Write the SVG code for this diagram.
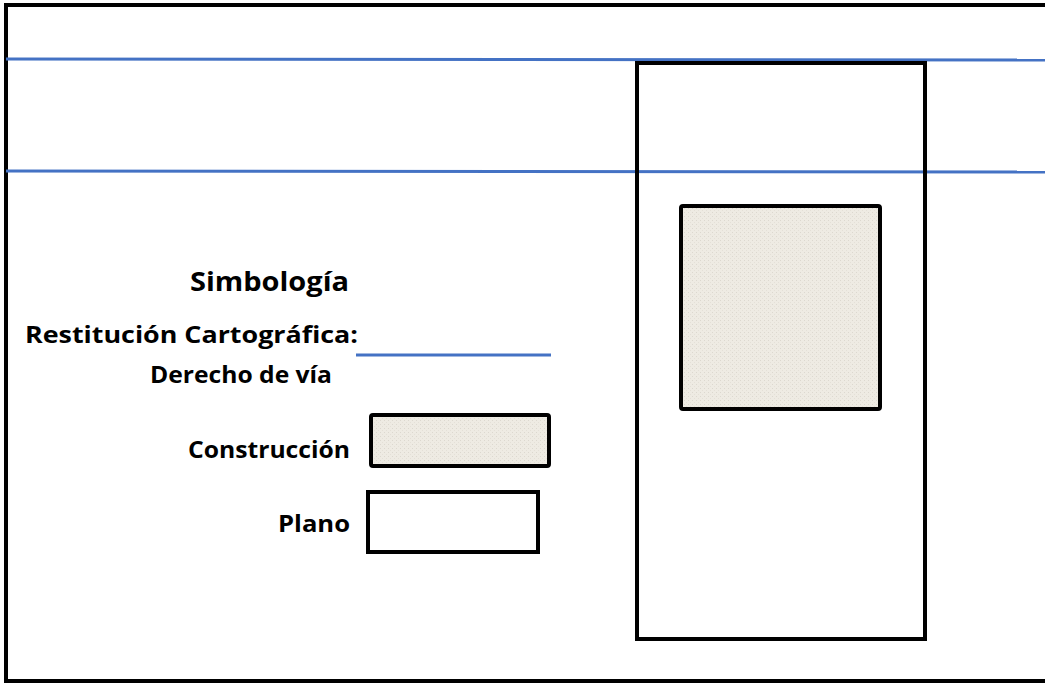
<svg xmlns="http://www.w3.org/2000/svg" width="1045" height="683" viewBox="0 0 1045 683">
<style>
.lbl{font-family:"Open Sans","Liberation Sans",sans-serif;font-weight:bold;fill:#000}
.blk{fill:none;stroke:#000;stroke-width:4}
.blue{stroke:#4472c4;stroke-width:3;fill:none}
</style>
<defs>
<pattern id="tex" width="4" height="4" patternUnits="userSpaceOnUse">
<rect width="4" height="4" fill="#eeebe3"/>
<rect x="0" y="0" width="1" height="1" fill="#dcd8cf"/>
<rect x="2" y="2" width="1" height="1" fill="#e4e0d7"/>
</pattern>
</defs>
<rect width="1045" height="683" fill="#fff"/>
<g id="frame"><path d="M1045 5 H6 V681 H1045" fill="none" stroke="#000" stroke-width="4"/></g>
<g id="connectors">
<line class="blue" x1="6" y1="59" x2="1045" y2="60"/>
<line class="blue" x1="6" y1="171" x2="1045" y2="172"/>
</g>
<g id="plano-main"><rect class="blk" x="637" y="63" width="288" height="576"/></g>
<g id="construccion-main"><rect x="681" y="206" width="199" height="203" rx="2" fill="url(#tex)" stroke="#000" stroke-width="4"/></g>
<g id="legend">
<text class="lbl" x="349" y="291" font-size="27" text-anchor="end" textLength="159" lengthAdjust="spacingAndGlyphs">Simbología</text>
<text class="lbl" x="358" y="343" font-size="24" text-anchor="end" textLength="333" lengthAdjust="spacingAndGlyphs">Restitución Cartográfica:</text>
<line class="blue" x1="356" y1="355" x2="551" y2="355"/>
<text class="lbl" x="332" y="383" font-size="24" text-anchor="end" textLength="182" lengthAdjust="spacingAndGlyphs">Derecho de vía</text>
<text class="lbl" x="350" y="458" font-size="24" text-anchor="end" textLength="162" lengthAdjust="spacingAndGlyphs">Construcción</text>
<rect x="371" y="415" width="178" height="51" rx="2" fill="url(#tex)" stroke="#000" stroke-width="4"/>
<text class="lbl" x="350" y="532" font-size="24" text-anchor="end" textLength="72" lengthAdjust="spacingAndGlyphs">Plano</text>
<rect class="blk" x="368" y="492" width="170" height="60"/>
</g>
</svg>
